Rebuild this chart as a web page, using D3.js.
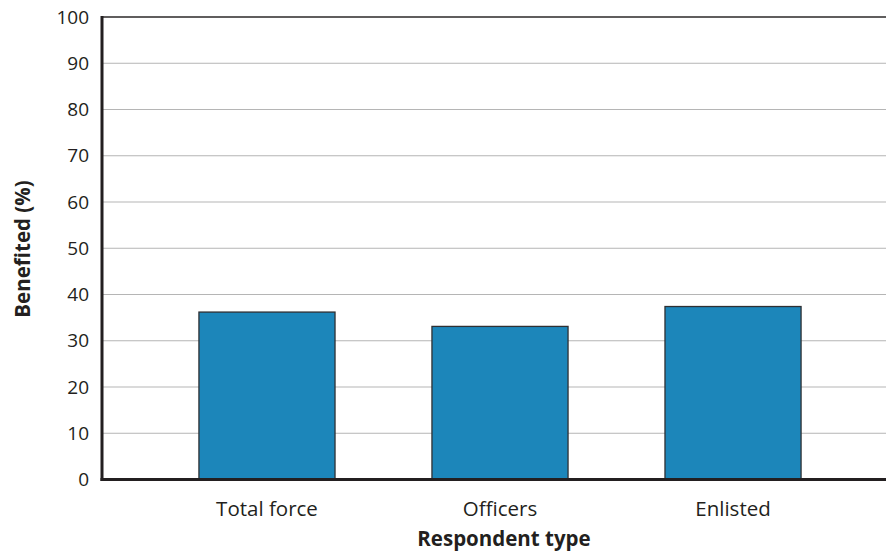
<!DOCTYPE html>
<html>
<head>
<meta charset="utf-8">
<script src="https://cdn.jsdelivr.net/npm/d3@7"></script>
<style>
  html, body { margin: 0; padding: 0; background: #fff; }
  svg { display: block; font-family: "Open Sans", "Noto Sans", sans-serif; }
</style>
</head>
<body>
<svg id="chart" width="886" height="552"></svg>
<script>
// Share of respondents who benefited, by respondent type
const categories = ["Total force", "Officers", "Enlisted"];
const benefited = [36.2, 33.1, 37.4];
const yTicks = [0, 10, 20, 30, 40, 50, 60, 70, 80, 90, 100];

const svg = d3.select("#chart");
const plotLeft = 102, plotRight = 886, plotTop = 17, plotBottom = 479.5;
const ink = "#231f20";

const x = d3.scaleBand()
  .domain(categories)
  .range([plotLeft, 898])
  .paddingInner(0.416)
  .paddingOuter(0.416);

const y = d3.scaleLinear().domain([0, 100]).range([plotBottom, plotTop]);

// Horizontal gridlines
svg.append("g")
  .selectAll("line")
  .data(yTicks.filter(d => d > 0 && d < 100))
  .join("line")
  .attr("x1", plotLeft).attr("x2", plotRight)
  .attr("y1", d => y(d)).attr("y2", d => y(d))
  .attr("stroke", "#b5b5b5").attr("stroke-width", 1);

// Top frame line
svg.append("line")
  .attr("x1", plotLeft).attr("x2", plotRight)
  .attr("y1", y(100)).attr("y2", y(100))
  .attr("stroke", "#2b2829").attr("stroke-width", 1.6);

// Bars
svg.append("g")
  .selectAll("rect")
  .data(categories)
  .join("rect")
  .attr("x", d => x(d))
  .attr("width", x.bandwidth())
  .attr("y", (d, i) => y(benefited[i]))
  .attr("height", (d, i) => y(0) - y(benefited[i]))
  .attr("fill", "#1c86ba")
  .attr("stroke", "#2e3033")
  .attr("stroke-width", 1.3);

// Y axis (labels only; line drawn separately)
const yAxis = d3.axisLeft(y).tickValues(yTicks).tickSize(0).tickPadding(13);
const gy = svg.append("g").attr("transform", `translate(${plotLeft},0)`).call(yAxis);
gy.select(".domain").remove();
gy.selectAll("text")
  .attr("font-family", "'Open Sans', 'Noto Sans', sans-serif")
  .attr("font-size", 19)
  .attr("fill", ink);

// X axis labels
const xAxis = d3.axisBottom(x).tickSize(0).tickPadding(22);
const gx = svg.append("g").attr("transform", `translate(0,${plotBottom})`).call(xAxis);
gx.select(".domain").remove();
gx.selectAll("text")
  .attr("font-family", "'Open Sans', 'Noto Sans', sans-serif")
  .attr("font-size", 20.5)
  .attr("fill", ink);

// Axis lines
svg.append("line")
  .attr("x1", plotLeft).attr("x2", plotLeft)
  .attr("y1", y(100) - 1).attr("y2", plotBottom + 1.5)
  .attr("stroke", ink).attr("stroke-width", 3);
svg.append("line")
  .attr("x1", plotLeft - 1.5).attr("x2", plotRight)
  .attr("y1", plotBottom).attr("y2", plotBottom)
  .attr("stroke", ink).attr("stroke-width", 3);

// Axis titles
svg.append("text")
  .attr("x", 504)
  .attr("y", 546)
  .attr("text-anchor", "middle")
  .attr("font-size", 20.5)
  .attr("font-weight", "bold")
  .attr("fill", ink)
  .text("Respondent type");

svg.append("text")
  .attr("transform", `translate(30,249) rotate(-90)`)
  .attr("text-anchor", "middle")
  .attr("font-size", 20.5)
  .attr("font-weight", "bold")
  .attr("fill", ink)
  .text("Benefited (%)");
</script>
</body>
</html>
